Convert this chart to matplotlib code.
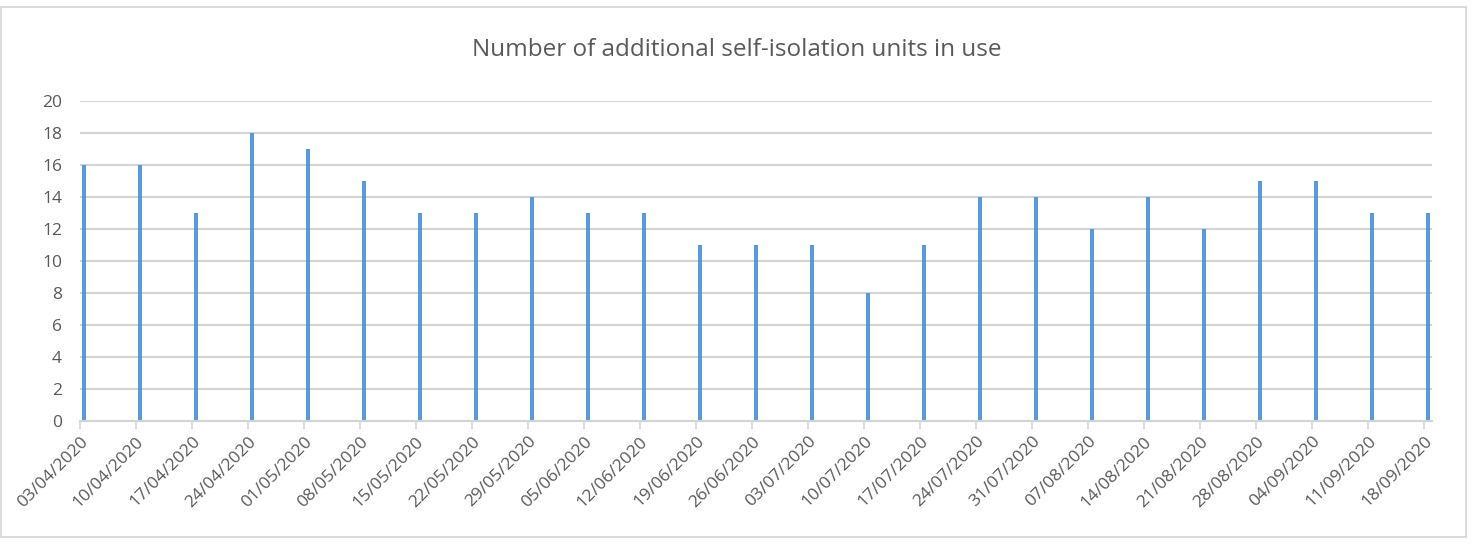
import numpy as np
import pandas as pd
import matplotlib
matplotlib.use('Agg')
import matplotlib.pyplot as plt
import matplotlib.dates as mdates
from matplotlib.patches import Rectangle

# data
week_labels = ['03/04/2020', '10/04/2020', '17/04/2020', '24/04/2020', '01/05/2020',
               '08/05/2020', '15/05/2020', '22/05/2020', '29/05/2020', '05/06/2020',
               '12/06/2020', '19/06/2020', '26/06/2020', '03/07/2020', '10/07/2020',
               '17/07/2020', '24/07/2020', '31/07/2020', '07/08/2020', '14/08/2020',
               '21/08/2020', '28/08/2020', '04/09/2020', '11/09/2020', '18/09/2020']
units_in_use = [16, 16, 13, 18, 17, 15, 13, 13, 14, 13, 13, 11, 11, 11, 8,
                11, 14, 14, 12, 14, 12, 15, 15, 13, 13]
y_ticks = [0, 2, 4, 6, 8, 10, 12, 14, 16, 18, 20]

dates = pd.to_datetime(week_labels, format='%d/%m/%Y')
day = pd.Timedelta(days=1)

blue = '#5B9BD5'
grid = '#D4D4D4'
text_col = '#595959'
plt.rcParams['font.family'] = ['Open Sans', 'DejaVu Sans']

fig = plt.figure(figsize=(14.74, 5.45), dpi=100)
ax = fig.add_axes([80/1474, 1 - 421/545, (1432 - 80)/1474, (421 - 101)/545])

# Excel date axis: bar sits in the middle of its day slot
ax.bar(dates + day / 2, units_in_use, width=0.38, color=blue, linewidth=0, zorder=3)

ax.set_xlim(dates[0], dates[-1] + day)
ax.set_ylim(0, 20)
ax.set_yticks(y_ticks)
ax.set_xticks(dates)
ax.set_xticklabels(week_labels, rotation=45, ha='right', rotation_mode='anchor',
                   fontsize=12.5, color=text_col)
ax.tick_params(axis='x', length=6, width=1.2, color=grid, pad=3)
ax.tick_params(axis='y', length=0, labelsize=12.5, labelcolor=text_col, pad=13)

ax.yaxis.grid(True, color=grid, linewidth=1.5, zorder=0)
for s in ['top', 'right', 'left']:
    ax.spines[s].set_visible(False)
ax.spines['bottom'].set_color(grid)
ax.spines['bottom'].set_linewidth(1.5)
ax.spines['bottom'].set_zorder(4)

fig.text(0.4995, 1 - 50/545, 'Number of additional self-isolation units in use',
         ha='center', va='center', fontsize=17.5, color=text_col)

# chart area border
fig.patches.append(Rectangle((1/1474, 8/545), 1465/1474, 530/545,
                             transform=fig.transFigure, fill=False,
                             edgecolor=grid, linewidth=1.2))

fig.savefig('out.png', dpi=100)
